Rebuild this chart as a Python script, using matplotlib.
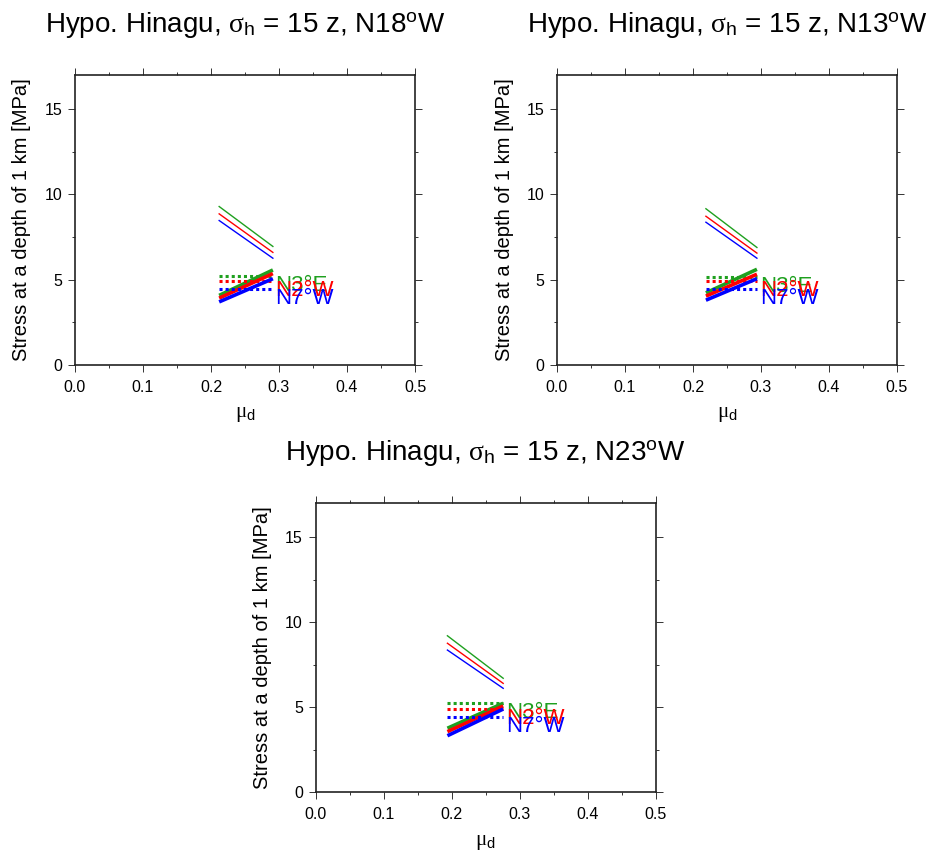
import matplotlib
matplotlib.use("Agg")
import matplotlib.pyplot as plt
from matplotlib.ticker import MultipleLocator

plt.rcParams['font.family'] = ['Liberation Sans', 'DejaVu Sans']
plt.rcParams['mathtext.fontset'] = 'custom'
plt.rcParams['mathtext.rm'] = 'Liberation Serif'
plt.rcParams['mathtext.sf'] = 'Liberation Sans'
plt.rcParams['mathtext.it'] = 'Liberation Serif:italic'

# hypocentre strike of each panel
strikes = ['N18', 'N13', 'N23']

# fault segment strikes (one colour each)
seg_labels = ['N3°E', 'N2°W', 'N7°W']
seg_colors = ['#1fa01f', '#ff0000', '#0000ff']

# mu_d range covered in each panel
mu_start = [0.212, 0.219, 0.194]
mu_end = [0.291, 0.294, 0.276]

# decreasing stress (thin lines), start / end, per segment
dec_start = [[9.29, 8.86, 8.47], [9.16, 8.72, 8.37], [9.19, 8.75, 8.35]]
dec_end = [[6.95, 6.60, 6.26], [6.89, 6.56, 6.26], [6.69, 6.39, 6.10]]

# increasing stress (thick lines), start / end, per segment
inc_start = [[4.08, 3.92, 3.70], [4.23, 4.04, 3.80], [3.75, 3.55, 3.31]]
inc_end = [[5.57, 5.36, 5.06], [5.61, 5.32, 5.06], [5.22, 5.06, 4.88]]

# constant level (dotted lines), per segment
flat = [[5.22, 4.92, 4.47], [5.18, 4.92, 4.47], [5.22, 4.90, 4.43]]

W, H = 935, 857
fig = plt.figure(figsize=(W / 100, H / 100), dpi=100)

# axes boxes in pixels: left, top, right, bottom
boxes = [(75, 75, 415, 365), (557, 75, 897, 365), (315.5, 503, 655.5, 792)]

for i, (l, t, r, b) in enumerate(boxes):
    ax = fig.add_axes([l / W, 1 - b / H, (r - l) / W, (b - t) / H])
    x0, x1 = mu_start[i], mu_end[i]
    for j in range(3):
        c = seg_colors[j]
        ax.plot([x0, x1], [dec_start[i][j], dec_end[i][j]], color=c, lw=1.0)
        ax.plot([x0, x1], [inc_start[i][j], inc_end[i][j]], color=c, lw=2.6,
                solid_capstyle='butt')
        ax.plot([x0, x1], [flat[i][j], flat[i][j]], color=c, lw=2.2, ls=(0, (1, 1)))
        ax.text(x1 + 0.004, flat[i][j] + 0.05, seg_labels[j], color=c,
                fontsize=16, ha='left', va='top')

    ax.set_xlim(0, 0.5)
    ax.set_ylim(0, 17)
    ax.xaxis.set_major_locator(MultipleLocator(0.1))
    ax.xaxis.set_minor_locator(MultipleLocator(0.05))
    ax.yaxis.set_major_locator(MultipleLocator(5))
    ax.yaxis.set_minor_locator(MultipleLocator(2.5))
    ax.set_xticklabels([f'{v:.1f}' for v in ax.get_xticks()])
    ax.tick_params(which='both', direction='out', top=True, right=True,
                   width=0.7, labelsize=11.5, color='#333333')
    ax.tick_params(which='major', length=5, pad=4)
    ax.tick_params(which='minor', length=2.5)
    ax.tick_params(axis='x', which='major', pad=6)
    for s in ax.spines.values():
        s.set_linewidth(1.2)
        s.set_color('#222222')

    ax.text(0.5, 1 + 43 / (b - t),
            'Hypo. Hinagu, $\\mathrm{\\sigma}_{\\mathsf{h}}$ = 15 z, '
            + strikes[i] + '$^{\\mathsf{o}}$W',
            transform=ax.transAxes, ha='center', va='baseline', fontsize=20)
    ax.text(0.5, -50 / (b - t), '$\\mathrm{\\mu}_{\\mathsf{d}}$',
            transform=ax.transAxes, ha='center', va='center', fontsize=15)
    ax.text(-53 / (r - l), 0.5, 'Stress at a depth of 1 km [MPa]',
            transform=ax.transAxes, ha='center', va='center', rotation=90,
            fontsize=14.5)

fig.savefig('out.png', dpi=100)
